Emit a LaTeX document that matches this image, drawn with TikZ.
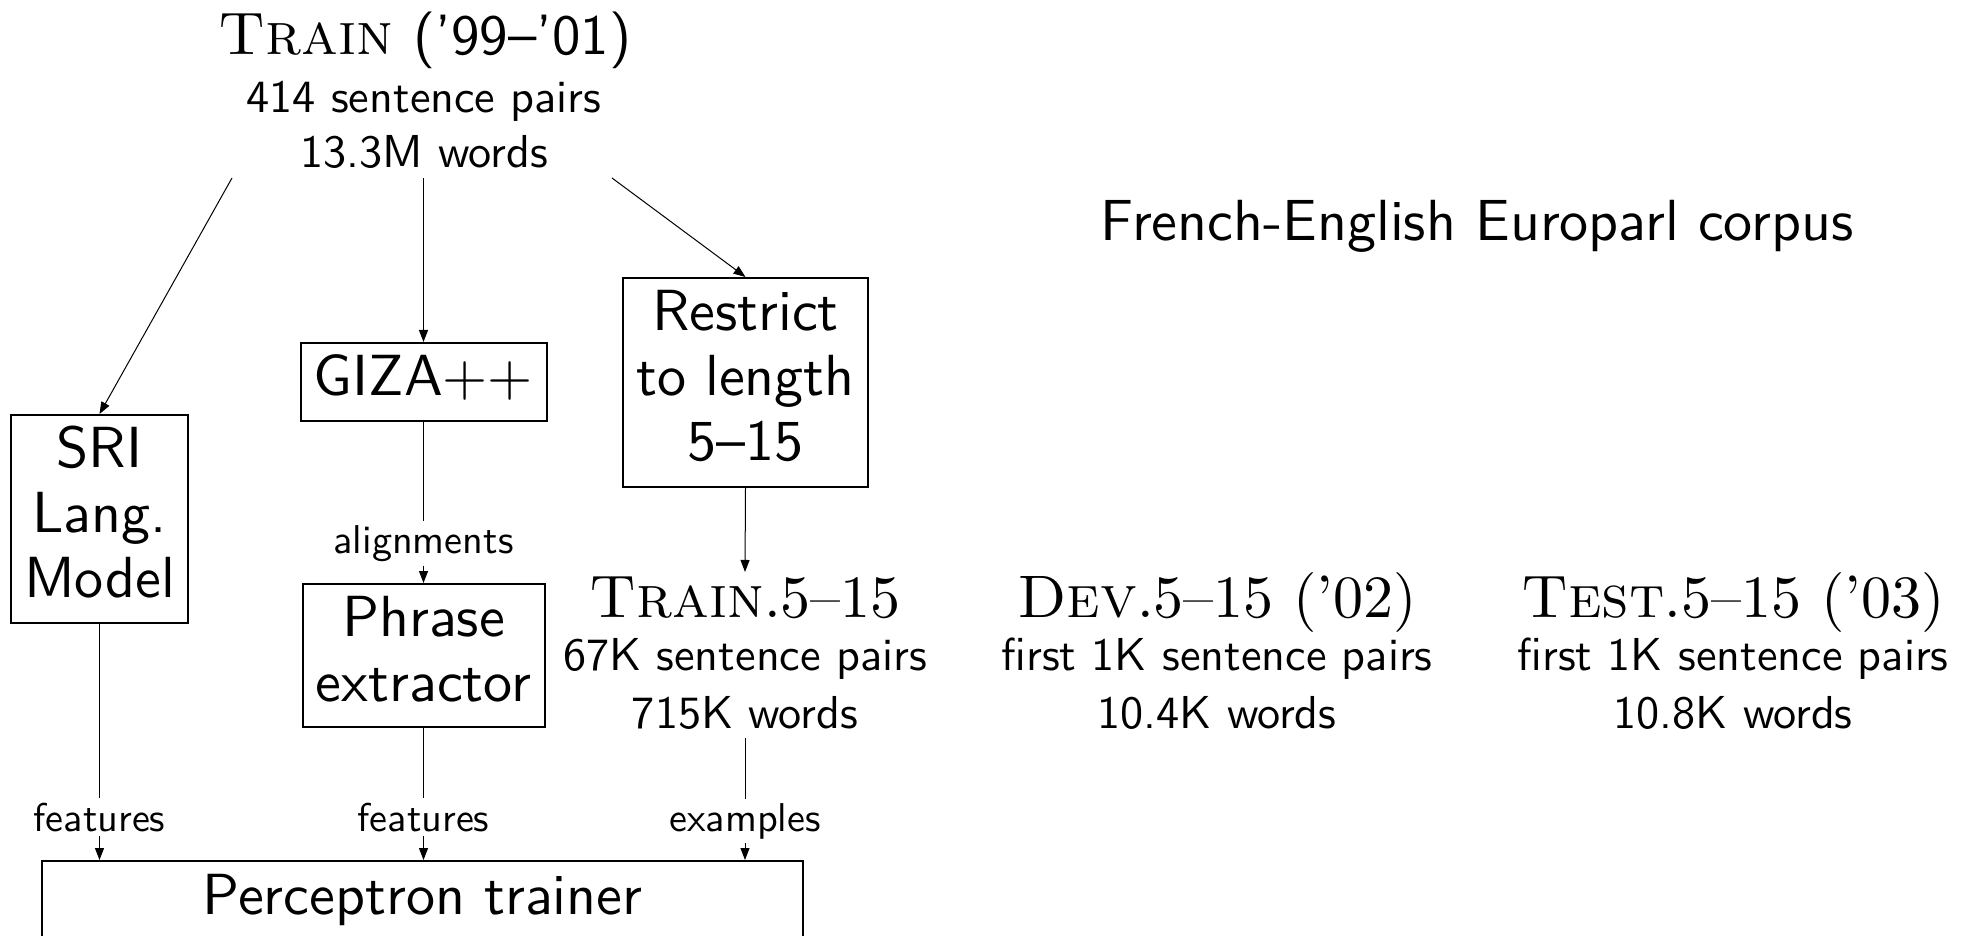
\documentclass[tikz,border=0pt]{standalone}
\usepackage{fontspec}
% design-size 10 Latin Modern, scaled up to the sizes used below
\setmainfont{lmroman10-regular.otf}[SmallCapsFont=lmromancaps10-regular.otf]
\setsansfont{lmsans10-regular.otf}
\usetikzlibrary{arrows.meta}
\newcommand\fbig{\fontsize{29}{32.5}\selectfont\sffamily}
\newcommand\fmed{\fontsize{23.1}{27.5}\selectfont\sffamily}
\newcommand\fsml{\fontsize{20.1}{24}\selectfont\sffamily}
\newcommand\fser{\fontsize{30}{32.5}\selectfont\rmfamily}

\begin{document}
\begin{tikzpicture}[x=0.5pt,y=-0.5pt,
  boxnode/.style={draw, line width=1pt, align=center, inner sep=0pt, font=\fbig},
  txt/.style={anchor=base, inner sep=2pt},
  lbl/.style={anchor=base, inner sep=2pt, fill=white, font=\fsml},
  conn/.style={line width=0.5pt},
  arr/.style={conn, -{Triangle[length=6pt,width=4.5pt]}},
]
\useasboundingbox (0,0) rectangle (1971,936);

% full training corpus
\node[txt, font=\fser] (train) at (425,55)
  {\textsc{Train} {\fontsize{28.4}{32.5}\selectfont\sffamily (’99–’01)}};
\node[txt, font=\fmed] (trainpairs) at (424,113) {414 sentence pairs};
\node[txt, font=\fmed] (trainwords) at (424,168) {13.3M words};
\coordinate (fromA) at (232,178);
\coordinate (fromB) at (423.5,178);
\coordinate (fromC) at (612,178);

\node[txt, font=\fbig] (corpus) at (1477,241) {French-English Europarl corpus};

% processing steps
\node[boxnode, minimum width=88.5pt, minimum height=104pt] (sri) at (99.5,519)
  {\strut SRI\\\strut Lang.\\\strut Model};
\node[boxnode, minimum width=123pt, minimum height=39pt] (giza) at (423.5,382)
  {\strut GIZA{\rmfamily ++}};
\node[boxnode, minimum width=122.5pt, minimum height=104.5pt] (restrict) at (745.5,382.5)
  {\strut Restrict\\\strut to length\\\strut 5–15};
\node[boxnode, minimum width=121pt, minimum height=71.5pt] (phrase) at (423.5,655.5)
  {\strut Phrase\\\strut extractor};
\node[boxnode, minimum width=380.5pt, minimum height=40pt] (perc) at (422.5,901)
  {\strut Perceptron trainer};

% restricted data sets
\node[txt, font=\fser] (trs) at (745,617) {\textsc{Train}.5–15};
\node[txt, font=\fmed] (trsp) at (745,670) {67K sentence pairs};
\node[txt, font=\fmed] (trsw) at (745,728) {715K words};
\node[txt, font=\fser] (dev) at (1217,617) {\textsc{Dev}.5–15 (’02)};
\node[txt, font=\fmed] (devp) at (1217,670) {first 1K sentence pairs};
\node[txt, font=\fmed] (devw) at (1217,728) {10.4K words};
\node[txt, font=\fser] (tst) at (1733,617) {\textsc{Test}.5–15 (’03)};
\node[txt, font=\fmed] (tstp) at (1733,670) {first 1K sentence pairs};
\node[txt, font=\fmed] (tstw) at (1733,728) {10.8K words};

% connector labels
\node[lbl] (algn) at (423.5,553) {alignments};
\node[lbl] (featA) at (99.5,831) {features};
\node[lbl] (featB) at (423.5,831) {features};
\node[lbl] (exmp) at (745,831) {examples};

% connectors
\draw[arr] (fromA) -- (sri.north);
\draw[arr] (fromB) -- (giza.north);
\draw[arr] (fromC) -- (restrict.north);
\draw[arr] (restrict.south) -- (trs.north);
\draw[conn] (giza.south) -- (algn.north);
\draw[arr] (algn.south) -- (phrase.north);
\draw[conn] (sri.south) -- (featA.north);
\draw[arr] (featA.south) -- (featA.south |- perc.north);
\draw[conn] (phrase.south) -- (featB.north);
\draw[arr] (featB.south) -- (featB.south |- perc.north);
\draw[conn] ([yshift=-2.5pt]trsw.south) -- (exmp.north);
\draw[arr] (exmp.south) -- (exmp.south |- perc.north);
\end{tikzpicture}
\end{document}
